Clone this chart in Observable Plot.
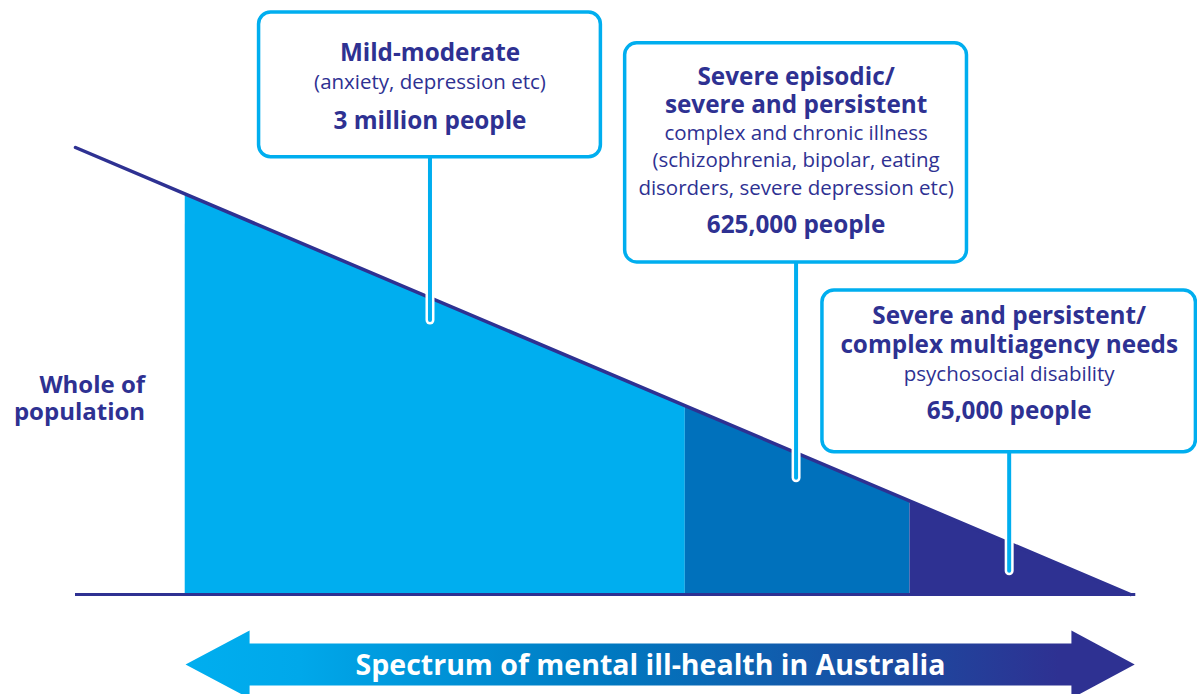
<!DOCTYPE html>
<html>
<head>
<meta charset="utf-8">
<script src="https://cdn.jsdelivr.net/npm/d3@7"></script>
<script src="https://cdn.jsdelivr.net/npm/@observablehq/plot@0.6"></script>
<style>
  html, body { margin: 0; padding: 0; background: #ffffff; }
  #chart svg { display: block; }
</style>
</head>
<body>
<div id="chart"></div>
<script>
// ---------- DATA ----------
// Spectrum position (0 = whole of population, 100 = most severe) and population level (100 -> 0)
const segmentNames = ["Mild-moderate", "Severe episodic/ severe and persistent", "Severe and persistent/ complex multiagency needs"];
const segmentStart = [10.4, 57.8, 79.1];
const segmentEnd = [57.8, 79.1, 100];
const titleLines = [
  ["Mild-moderate"],
  ["Severe episodic/", "severe and persistent"],
  ["Severe and persistent/", "complex multiagency needs"]
];
const detailLines = [
  ["(anxiety, depression etc)"],
  ["complex and chronic illness", "(schizophrenia, bipolar, eating", "disorders, severe depression etc)"],
  ["psychosocial disability"]
];
const populations = ["3 million people", "625,000 people", "65,000 people"];
const axisLabelLines = ["Whole of", "population"];
const spectrumLabel = "Spectrum of mental ill-health in Australia";

// ---------- LAYOUT & STYLE ----------
const navy = "#2e3192", mid = "#0071bc", light = "#00aeef";
const segColors = [light, mid, navy];
const font = "'Open Sans', sans-serif";
const lineLevel = x => 100 - x; // the descending population line
const boxes = [
  {cx: 33.6, hw: 16.2, top: 130.2, bottom: 97.8, stemEnd: 61.3, offsets: [48, 76, 116]},
  {cx: 68.3, hw: 16.2, top: 123.3, bottom: 74.3, stemEnd: 26.0, offsets: [42, 70, 97, 124, 152, 190]},
  {cx: 88.5, hw: 17.7, top: 68.0, bottom: 31.8, stemEnd: 5.2, offsets: [33, 62, 90, 128]}
];
const arrow = {c: -15.66, shaft: 4.7, head: 7.6, left: 10.43, leftBase: 16.5, rightBase: 94.4, right: 100.4};

// ---------- BUILD ----------
const marks = [];

// filled segments under the line
segmentNames.forEach((name, i) => {
  marks.push(Plot.areaY(
    [{x: segmentStart[i], y: lineLevel(segmentStart[i])}, {x: segmentEnd[i], y: lineLevel(segmentEnd[i])}],
    {x: "x", y: "y", fill: segColors[i]}
  ));
});

// descending line and baseline
marks.push(Plot.line([{x: 0, y: 100}, {x: 100, y: 0}], {x: "x", y: "y", stroke: navy, strokeWidth: 3.5}));
marks.push(Plot.ruleY([0], {x1: 0, x2: 100.5, stroke: navy, strokeWidth: 3}));

// callout stems
const stemData = boxes.map(b => ({x: b.cx, top: b.bottom, lineY: lineLevel(b.cx) + 0.8, end: b.stemEnd}));
marks.push(Plot.ruleX(stemData, {x: "x", y1: "lineY", y2: "end", stroke: "white", strokeWidth: 9, strokeLinecap: "round"}));
marks.push(Plot.ruleX(stemData, {x: "x", y1: "top", y2: "end", stroke: light, strokeWidth: 4, strokeLinecap: "round"}));

// boxes
marks.push(Plot.rect(boxes, {x1: b => b.cx - b.hw, x2: b => b.cx + b.hw, y1: "bottom", y2: "top",
  fill: "white", stroke: light, strokeWidth: 3.5, rx: 12}));

// box texts
boxes.forEach((b, i) => {
  const lines = [
    ...titleLines[i].map(t => ({t, w: 700, s: 24.3})),
    ...detailLines[i].map(t => ({t, w: 400, s: 20.5})),
    {t: populations[i], w: 700, s: 24.3}
  ];
  lines.forEach((l, j) => {
    marks.push(Plot.text([l.t], {x: () => b.cx, y: () => b.top, text: d => d, dy: b.offsets[j],
      lineAnchor: "bottom", textAnchor: "middle", fontSize: l.s, fontWeight: l.w, fontFamily: font, fill: navy}));
  });
});

// "Whole of population"
axisLabelLines.forEach((t, j) => {
  marks.push(Plot.text([t], {x: () => 6.6, y: () => 45.0, text: d => d, dy: j * 27,
    lineAnchor: "bottom", textAnchor: "end", fontSize: 24, fontWeight: 700, fontFamily: font, fill: navy}));
});

// spectrum arrow
const a = arrow;
const arrowPts = [
  [a.left, a.c], [a.leftBase, a.c + a.head], [a.leftBase, a.c + a.shaft], [a.rightBase, a.c + a.shaft],
  [a.rightBase, a.c + a.head], [a.right, a.c], [a.rightBase, a.c - a.head], [a.rightBase, a.c - a.shaft],
  [a.leftBase, a.c - a.shaft], [a.leftBase, a.c - a.head], [a.left, a.c]
];
marks.push(Plot.line(arrowPts, {x: d => d[0], y: d => d[1], fill: "url(#spectrumGrad)", stroke: "none", curve: "linear"}));
marks.push(Plot.text([spectrumLabel], {x: () => 54.5, y: () => a.c, text: d => d, dy: 10,
  lineAnchor: "bottom", textAnchor: "middle", fontSize: 28.5, fontWeight: 700, fontFamily: font, fill: "white"}));

const svg = Plot.plot({
  width: 1197,
  height: 694,
  margin: 0,
  x: {domain: [0, 100], range: [75, 1130], axis: null},
  y: {domain: [0, 100], range: [594, 147], axis: null},
  style: {background: "white", overflow: "hidden", fontFamily: font},
  marks
});

const ns = "http://www.w3.org/2000/svg";
const defs = document.createElementNS(ns, "defs");
defs.innerHTML = `<linearGradient id="spectrumGrad" x1="0" x2="1" y1="0" y2="0">
  <stop offset="0" stop-color="#00aeef"/>
  <stop offset="0.12" stop-color="#00a8ea"/>
  <stop offset="0.45" stop-color="#0078c0"/>
  <stop offset="0.75" stop-color="#1c4aa0"/>
  <stop offset="0.92" stop-color="#2e3192"/>
  <stop offset="1" stop-color="#2e3192"/>
</linearGradient>`;
svg.insertBefore(defs, svg.firstChild);
document.getElementById("chart").appendChild(svg);
</script>
</body>
</html>
